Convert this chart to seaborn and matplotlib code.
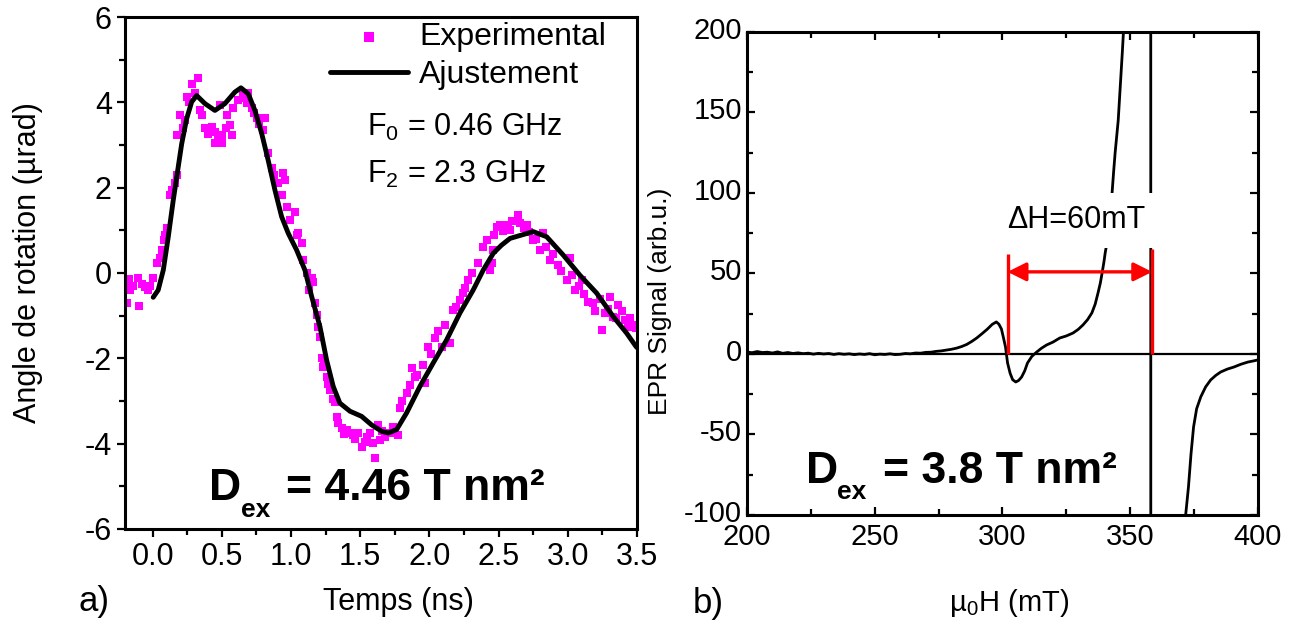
import numpy as np
import seaborn as sns
import matplotlib.pyplot as plt
import matplotlib.transforms as mtransforms
from matplotlib.ticker import MultipleLocator

sns.set_style("ticks")
plt.rcParams['font.family'] = ['Liberation Sans', 'DejaVu Sans']
plt.rcParams['mathtext.fontset'] = 'custom'
plt.rcParams['mathtext.rm'] = 'Liberation Sans'
plt.rcParams['mathtext.it'] = 'Liberation Sans:italic'
plt.rcParams['mathtext.bf'] = 'Liberation Sans:bold'
plt.rcParams['axes.unicode_minus'] = False
plt.rcParams['text.color'] = 'black'
plt.rcParams['axes.labelcolor'] = 'black'
plt.rcParams['xtick.color'] = 'black'
plt.rcParams['ytick.color'] = 'black'

# ---------- panel a) : time-resolved rotation ----------
exp_t = [-0.188, -0.186, -0.17, -0.164, -0.14, -0.106, -0.099, -0.08, -0.056, -0.034, -0.02,
         0.002, 0.031, 0.05, 0.067, 0.082, 0.09, 0.103, 0.125, 0.14, 0.161, 0.176, 0.176, 0.197,
         0.22, 0.233, 0.248, 0.26, 0.284, 0.306, 0.327, 0.342, 0.36, 0.378, 0.40, 0.428, 0.45,
         0.45, 0.47, 0.486, 0.501, 0.501, 0.53, 0.537, 0.559, 0.573, 0.58, 0.616, 0.652, 0.66,
         0.681, 0.689, 0.717, 0.73, 0.754, 0.77, 0.797, 0.811, 0.833, 0.862, 0.88, 0.905, 0.934,
         0.941, 0.956, 0.97, 0.992, 1.028, 1.043, 1.05, 1.079, 1.086, 1.115, 1.13, 1.151, 1.158,
         1.173, 1.187, 1.195, 1.209, 1.223, 1.231, 1.24, 1.259, 1.27, 1.281, 1.30, 1.317, 1.332,
         1.339, 1.368, 1.38, 1.404, 1.426, 1.448, 1.46, 1.484, 1.512, 1.534, 1.55, 1.57, 1.592,
         1.606, 1.628, 1.643, 1.66, 1.679, 1.715, 1.74, 1.772, 1.787, 1.80, 1.837, 1.859, 1.873,
         1.895, 1.91, 1.953, 1.967, 1.989, 2.01, 2.04, 2.06, 2.09, 2.112, 2.148, 2.17, 2.19, 2.22,
         2.242, 2.26, 2.278, 2.307, 2.35, 2.386, 2.415, 2.437, 2.451, 2.458, 2.47, 2.487, 2.509,
         2.53, 2.567, 2.582, 2.60, 2.64, 2.654, 2.68, 2.705, 2.72, 2.748, 2.77, 2.799, 2.82, 2.84,
         2.871, 2.89, 2.929, 2.95, 2.994, 3.015, 3.03, 3.051, 3.08, 3.102, 3.12, 3.145, 3.181,
         3.20, 3.23, 3.246, 3.268, 3.29, 3.304, 3.325, 3.35, 3.361, 3.39, 3.412, 3.434, 3.45,
         3.47, 3.49]
exp_v = [-0.23, -0.70, -0.15, -0.40, -0.30, -0.12, -0.77, -0.25, -0.33, -0.40, -0.30,
         -0.12, 0.23, 0.35, 0.54, 0.77, 0.90, 1.05, 1.82, 1.95, 2.11, 2.29, 3.23, 3.70,
         3.40, 3.58, 4.12, 4.00, 4.44, 4.23, 4.58, 3.81, 3.70, 3.39, 3.25, 3.42, 3.04,
         3.30, 3.20, 3.93, 3.04, 3.23, 3.40, 3.70, 3.46, 3.23, 3.86, 4.05, 4.21, 4.10,
         3.98, 4.23, 3.86, 3.75, 3.63, 3.50, 3.35, 3.63, 2.81, 2.46, 2.30, 2.11, 1.82,
         2.34, 2.18, 1.54, 1.24, 1.43, 0.89, 0.94, 0.70, 0.30, 0.00, -0.40, -0.12, -0.21,
         -0.70, -0.98, -1.26, -1.50, -1.99, -2.20, -2.15, -2.43, -2.60, -2.74, -2.95, -3.02, -3.37,
         -3.51, -3.63, -3.78, -3.67, -3.74, -3.79, -3.90, -3.74, -4.07, -3.95, -3.85, -3.74, -3.98,
         -4.33, -3.56, -3.91, -3.70, -3.84, -3.74, -3.60, -3.79, -3.16, -3.00, -2.81, -2.62, -2.22,
         -2.43, -2.40, -2.15, -2.57, -1.73, -1.90, -1.52, -1.35, -1.73, -1.22, -1.64, -0.87, -0.80, -0.63,
         -0.47, -0.35, -0.16, 0.00, 0.23, 0.61, 0.77, 0.07, 0.23, 0.54, 0.90, 1.08, 1.12,
         0.98, 1.12, 1.01, 1.22, 1.36, 1.17, 1.05, 1.12, 0.95, 0.77, 0.80, 0.54, 0.94, 0.62,
         0.30, 0.45, 0.19, 0.05, -0.16, 0.35, -0.05, -0.40, -0.30, -0.16, -0.50, -0.68, -0.70,
         -0.88, -0.60, -1.33, -0.94, -0.85, -0.56, -1.03, -1.05, -0.75, -0.90, -1.10, -1.26, -1.05,
         -1.22, -1.30]

fit_t = [0.004, 0.04, 0.077, 0.113, 0.149, 0.185, 0.21, 0.246, 0.282, 0.318, 0.378, 0.45,
         0.522, 0.594, 0.638, 0.691, 0.739, 0.788, 0.835, 0.884, 0.932, 0.98, 1.04, 1.1, 1.149,
         1.209, 1.257, 1.305, 1.353, 1.426, 1.51, 1.582, 1.655, 1.702, 1.763, 1.835, 1.931,
         2.027, 2.124, 2.22, 2.316, 2.389, 2.461, 2.52, 2.582, 2.75, 2.847, 2.967, 3.087, 3.208,
         3.328, 3.425, 3.492, 3.5]
fit_v = [-0.57, -0.40, 0.07, 0.85, 1.71, 2.49, 3.03, 3.62, 4.01, 4.16, 3.97, 3.81,
         3.97, 4.24, 4.34, 4.20, 3.81, 3.27, 2.64, 1.94, 1.32, 0.93, 0.54, 0.07, -0.55,
         -1.26, -2.04, -2.66, -3.05, -3.24, -3.36, -3.56, -3.71, -3.75, -3.67, -3.28, -2.66,
         -2.11, -1.57, -0.94, -0.40, 0.07, 0.46, 0.65, 0.81, 0.97, 0.85, 0.42, -0.05, -0.47,
         -1.02, -1.41, -1.72, -1.75]

t_ticks = [0.0, 0.5, 1.0, 1.5, 2.0, 2.5, 3.0, 3.5]
v_ticks = [-6, -4, -2, 0, 2, 4, 6]

# ---------- panel b) : EPR spectrum ----------
epr_h = [200, 202, 204, 206, 208, 210, 212, 214, 216, 218, 220, 222, 224, 226, 228, 230,
         232, 234, 236, 238, 240, 242, 244, 246, 248, 250, 252, 254, 256,
         258, 260, 262, 264, 266, 268, 270, 272, 274, 276, 278, 280, 282, 284, 286, 288, 290,
         292, 294, 296, 297.6, 298.6, 299.6, 300.4, 301.2, 302, 303, 304, 305.2, 306.3, 307.5,
         308.7, 309.8, 311.5, 313.4, 315.3, 317.3, 319.8, 322.4, 325, 327.6, 329.6, 331.5,
         333.3, 335, 336.3, 337.4, 338.3, 339, 339.7, 340.2, 341.3, 342.1, 342.9, 343.5, 344.1,
         345.3, 346.1, 346.9, 347.6, 348.3, 349.5, 352, 355, 357.9, 358.2, 362, 366, 369, 370.5,
         371.7, 372.8, 373.8, 374.8, 376, 377.6, 379.5, 381.5, 383.5, 385.4, 388, 390.6, 393.3,
         396.1, 398, 400]
epr_s = [1.2, 0.8, 1.5, 0.9, 1.1, 0.6, 1.3, 0.4, 0.9, 0.3, 0.7, 0.2, 0.5, -0.1, 0.4, 0.0,
         0.3, -0.3, 0.2, -0.2, 0.1, -0.4, 0.0, -0.3, 0.2, -0.5, -0.1, -0.3, 0.1,
         -0.4, -0.2, 0.3, 0.1, 0.6, 0.5, 1.0, 1.1, 1.6, 1.9, 2.4, 2.9, 3.6, 4.6, 5.9, 7.8, 10.0,
         12.6, 15.3, 18.4, 19.9, 18.5, 15.5, 10.0, 4.3, -5.6, -12.0, -16.0, -17.4, -16.5, -14.3,
         -10.5, -5.6, -1.5, 1.2, 3.6, 5.6, 7.4, 9.9, 11.2, 13.0, 15.2, 18.0,
         21.3, 25.5, 31.0, 37.9, 44.0, 50.3, 57.0, 62.7, 72.7, 86.0, 100.0, 113.0, 125.0,
         145.0, 166.0, 187.0, 207.0, 240.0, 320.0, 600.0, 1200.0, 3000.0, -3000.0, -800.0, -320.0, -190.0, -135.0,
         -100.0, -82.6, -62.0, -45.3, -34.0, -26.7, -20.5, -16.1, -13.3, -11.2, -9.4, -8.1, -6.4,
         -5.0, -4.4, -3.7]

h_ticks = [200, 250, 300, 350, 400]
s_ticks = [-100, -50, 0, 50, 100, 150, 200]
width_left, width_right = 302.0, 358.6   # ΔH markers (mT)


def dex_label(ax, x, y, value):
    # big bold "D_ex = ... T nm²" with the low-set subscript of the original
    kw = dict(xycoords='data', textcoords='offset points', fontweight='bold',
              va='baseline', ha='left', zorder=5)
    ax.annotate('D', xy=(x, y), xytext=(0, 0), fontsize=32, **kw)
    ax.annotate('ex', xy=(x, y), xytext=(22.5, -12), fontsize=19, **kw)
    ax.annotate(f'= {value} T nm²', xy=(x, y), xytext=(55, 0), fontsize=32, **kw)


fig = plt.figure(figsize=(12.95, 6.23), dpi=100)
ax1 = fig.add_axes([0.0965, 0.1509, 0.3954, 0.8218])
ax2 = fig.add_axes([0.5768, 0.1734, 0.3946, 0.7753])

# panel a
sns.scatterplot(x=exp_t, y=exp_v, marker='s', s=34, color='#ff00ff', linewidth=0,
                label='Experimental', ax=ax1, zorder=2)
sns.lineplot(x=fit_t, y=fit_v, color='black', lw=3.5, label='Ajustement', ax=ax1,
             zorder=3, estimator=None)
ax1.set_xlim(-0.2, 3.5)
ax1.set_ylim(-6, 6)
ax1.set_xticks(t_ticks)
ax1.set_xticklabels([f'{x:.1f}' for x in t_ticks])
ax1.set_yticks(v_ticks)
ax1.xaxis.set_minor_locator(MultipleLocator(0.25))
ax1.yaxis.set_minor_locator(MultipleLocator(1))
ax1.tick_params(which='both', direction='out', labelsize=22, width=1.6, color='black')
ax1.tick_params(which='major', length=6)
ax1.tick_params(which='minor', length=4)
for sp in ax1.spines.values():
    sp.set_linewidth(2.2)
    sp.set_color('black')
ax1.set_xlabel('Temps (ns)', fontsize=22, va='center')
ax1.xaxis.set_label_coords(0.535, -0.1426)
ax1.set_ylabel('Angle de rotation (µrad)', fontsize=22, va='center')
ax1.yaxis.set_label_coords(-0.189, 0.521)
ax1.legend(loc='upper left', bbox_to_anchor=(0.40, 0.99), frameon=False, fontsize=23,
           borderaxespad=0, borderpad=0, handlelength=2.45, handletextpad=0.35,
           labelspacing=0.25, markerscale=1.2)
ax1.text(1.55, 3.42, 'F$_0$ = 0.46 GHz', fontsize=22, va='center', ha='left')
ax1.text(1.55, 2.32, 'F$_2$ = 2.3 GHz', fontsize=22, va='center', ha='left')
dex_label(ax1, 0.41, -5.33, '4.46')

# panel b
sns.lineplot(x=epr_h, y=epr_s, color='black', lw=2.0, ax=ax2, estimator=None, zorder=2)
ax2.axhline(0, color='black', lw=1.6, zorder=1)
ax2.set_xlim(200, 400)
ax2.set_ylim(-100, 200)
ax2.set_xticks(h_ticks)
ax2.set_yticks(s_ticks)
ax2.xaxis.set_minor_locator(MultipleLocator(25))
ax2.yaxis.set_minor_locator(MultipleLocator(25))
ax2.tick_params(which='both', direction='in', top=True, right=True, labelsize=21,
                width=1.6, color='black')
ax2.tick_params(which='major', length=6)
ax2.tick_params(which='minor', length=4)
ax2.tick_params(axis='x', pad=6)
for sp in ax2.spines.values():
    sp.set_linewidth(2.2)
    sp.set_color('black')
# nudge the y tick labels up a little, as in the original
shift = mtransforms.ScaledTranslation(0, 4 / 100, fig.dpi_scale_trans)
for lab in ax2.get_yticklabels():
    lab.set_transform(lab.get_transform() + shift)
ax2.set_xlabel('µ$_0$H (mT)', fontsize=21, va='center')
ax2.xaxis.set_label_coords(0.513, -0.182)
ax2.set_ylabel('EPR Signal (arb.u.)', fontsize=19, va='center')
ax2.yaxis.set_label_coords(-0.170, 0.443)

ax2.vlines([width_left, width_right], 0, [62, 65], color='red', lw=2.4, zorder=4)
ax2.annotate('', xy=(width_left, 51), xytext=(width_right, 51),
             arrowprops=dict(arrowstyle='<|-|>', color='red', lw=2.4,
                             mutation_scale=28, shrinkA=0, shrinkB=0), zorder=4)
ax2.text(328.7, 83, 'ΔH=60mT', fontsize=22, ha='center', va='center', zorder=5,
         bbox=dict(facecolor='white', edgecolor='none', pad=9))
dex_label(ax2, 223.2, -80, '3.8')

fig.text(79 / 1295, 1 - 602 / 623, 'a)', fontsize=25, ha='left', va='center')
fig.text(693 / 1295, 1 - 603 / 623, 'b)', fontsize=25, ha='left', va='center')

fig.savefig('out.png', dpi=100)
